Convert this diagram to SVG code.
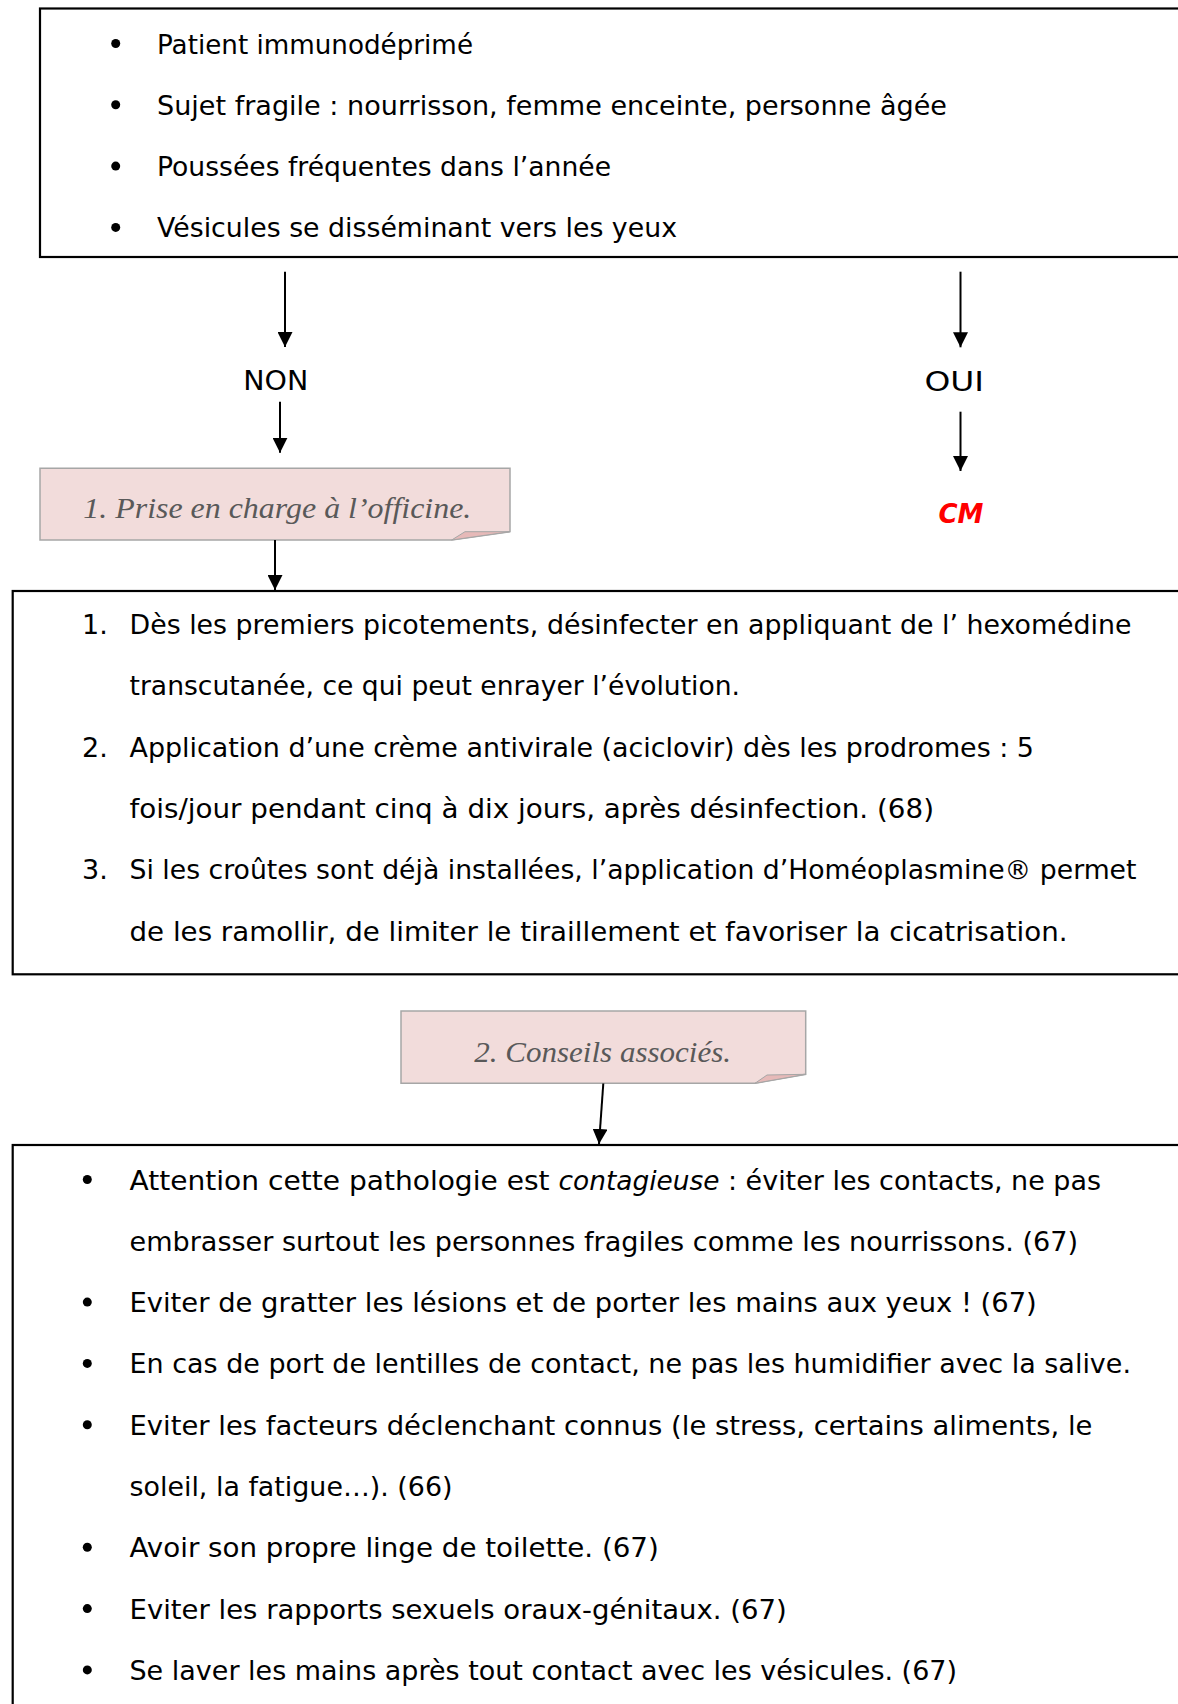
<svg xmlns="http://www.w3.org/2000/svg" width="1178" height="1704" viewBox="0 0 1178 1704">
<defs>
<style>
.box{fill:#fff;stroke:#000;stroke-width:2.2}
.t{font-family:"DejaVu Sans","Liberation Sans",sans-serif;font-size:27px;fill:#000}
.it{font-style:italic}
.lbl{fill:#F2DCDB;stroke:#A6A6A6;stroke-width:1.5}
.fold{fill:#E6B9B8;stroke:#A6A6A6;stroke-width:1}
.lt{font-family:"Liberation Serif","DejaVu Serif",serif;font-style:italic;font-size:29px;fill:#595959}
.yn{font-family:"DejaVu Sans","Liberation Sans",sans-serif;font-size:27px;fill:#000}
.cm{font-family:"DejaVu Sans","Liberation Sans",sans-serif;font-size:27px;font-weight:bold;font-style:italic;fill:#FF0000}
.bul{fill:#000}
.conn{stroke:#000;stroke-width:2;fill:none;marker-end:url(#ah)}
</style>
<marker id="ah" viewBox="0 0 15 15" refX="15" refY="7.5" markerWidth="15" markerHeight="15" markerUnits="userSpaceOnUse" orient="auto">
<path d="M0,0 L15,7.5 L0,15 Z" fill="#000"/>
</marker>
</defs>
<rect width="1178" height="1704" fill="#fff"/>

<g id="criteres">
<rect class="box" x="40" y="8.5" width="1160" height="248.5"/>
<circle class="bul" cx="115.7" cy="43.5" r="4.5"/>
<circle class="bul" cx="115.7" cy="104.8" r="4.5"/>
<circle class="bul" cx="115.7" cy="166.1" r="4.5"/>
<circle class="bul" cx="115.7" cy="227.4" r="4.5"/>
<text class="t" x="157" y="53.5" textLength="316" lengthAdjust="spacingAndGlyphs">Patient immunodéprimé</text>
<text class="t" x="157" y="114.8" textLength="790" lengthAdjust="spacingAndGlyphs">Sujet fragile : nourrisson, femme enceinte, personne âgée</text>
<text class="t" x="157" y="176.1" textLength="454" lengthAdjust="spacingAndGlyphs">Poussées fréquentes dans l’année</text>
<text class="t" x="157" y="237.4" textLength="520" lengthAdjust="spacingAndGlyphs">Vésicules se disséminant vers les yeux</text>
</g>

<g id="non">
<text class="yn" x="275.8" y="390" text-anchor="middle" textLength="65" lengthAdjust="spacingAndGlyphs">NON</text>
</g>

<g id="oui">
<text class="yn" x="954.2" y="390.7" text-anchor="middle" textLength="59.6" lengthAdjust="spacingAndGlyphs">OUI</text>
</g>

<g id="cm">
<text class="cm" x="960.9" y="523.3" text-anchor="middle" textLength="45" lengthAdjust="spacingAndGlyphs">CM</text>
</g>

<g id="label-prise-en-charge">
<path class="lbl" d="M40,468.3 H510 V531.7 L451.7,540 H40 Z"/>
<path class="fold" d="M451.7,540 L465,531.7 L510,531.7 Z"/>
<text class="lt" x="83.3" y="518.3" textLength="388" lengthAdjust="spacingAndGlyphs">1. Prise en charge à l’officine.</text>
</g>

<g id="prise-en-charge">
<rect class="box" x="12.7" y="591" width="1190" height="383.3"/>
<text class="t" x="82" y="634">1.</text>
<text class="t" x="82" y="756.6">2.</text>
<text class="t" x="82" y="879.2">3.</text>
<text class="t" x="129.5" y="634" textLength="1002" lengthAdjust="spacingAndGlyphs">Dès les premiers picotements, désinfecter en appliquant de l’ hexomédine</text>
<text class="t" x="129.5" y="695.3" textLength="610.5" lengthAdjust="spacingAndGlyphs">transcutanée, ce qui peut enrayer l’évolution.</text>
<text class="t" x="129.5" y="756.6" textLength="904.5" lengthAdjust="spacingAndGlyphs">Application d’une crème antivirale (aciclovir) dès les prodromes : 5</text>
<text class="t" x="129.5" y="817.9" textLength="804.5" lengthAdjust="spacingAndGlyphs">fois/jour pendant cinq à dix jours, après désinfection. (68)</text>
<text class="t" x="129.5" y="879.2" textLength="1007" lengthAdjust="spacingAndGlyphs">Si les croûtes sont déjà installées, l’application d’Homéoplasmine® permet</text>
<text class="t" x="129.5" y="940.5" textLength="938" lengthAdjust="spacingAndGlyphs">de les ramollir, de limiter le tiraillement et favoriser la cicatrisation.</text>
</g>

<g id="label-conseils">
<path class="lbl" d="M401,1011 H805.7 V1074.3 L755,1083.3 H401 Z"/>
<path class="fold" d="M755,1083.3 L767,1075 L805.7,1074.3 Z"/>
<text class="lt" x="474.3" y="1061.7" textLength="256.7" lengthAdjust="spacingAndGlyphs">2. Conseils associés.</text>
</g>

<g id="conseils">
<rect class="box" x="12.7" y="1145" width="1190" height="600"/>
<circle class="bul" cx="87.3" cy="1179.5" r="4.5"/>
<circle class="bul" cx="87.3" cy="1302.1" r="4.5"/>
<circle class="bul" cx="87.3" cy="1363.4" r="4.5"/>
<circle class="bul" cx="87.3" cy="1424.7" r="4.5"/>
<circle class="bul" cx="87.3" cy="1547.3" r="4.5"/>
<circle class="bul" cx="87.3" cy="1608.6" r="4.5"/>
<circle class="bul" cx="87.3" cy="1669.9" r="4.5"/>
<text class="t" y="1189.5"><tspan x="129.5" textLength="429" lengthAdjust="spacingAndGlyphs">Attention cette pathologie est </tspan><tspan class="it" x="558.6" textLength="160.8" lengthAdjust="spacingAndGlyphs">contagieuse</tspan><tspan x="719.4" textLength="381.6" lengthAdjust="spacingAndGlyphs"> : éviter les contacts, ne pas</tspan></text>
<text class="t" x="129.5" y="1250.8" textLength="948.5" lengthAdjust="spacingAndGlyphs">embrasser surtout les personnes fragiles comme les nourrissons. (67)</text>
<text class="t" x="129.5" y="1312.1" textLength="907.3" lengthAdjust="spacingAndGlyphs">Eviter de gratter les lésions et de porter les mains aux yeux ! (67)</text>
<text class="t" x="129.5" y="1373.4" textLength="1001.5" lengthAdjust="spacingAndGlyphs">En cas de port de lentilles de contact, ne pas les humidifier avec la salive.</text>
<text class="t" x="129.5" y="1434.7" textLength="963" lengthAdjust="spacingAndGlyphs">Eviter les facteurs déclenchant connus (le stress, certains aliments, le</text>
<text class="t" x="129.5" y="1496" textLength="323" lengthAdjust="spacingAndGlyphs">soleil, la fatigue…). (66)</text>
<text class="t" x="129.5" y="1557.3" textLength="529.3" lengthAdjust="spacingAndGlyphs">Avoir son propre linge de toilette. (67)</text>
<text class="t" x="129.5" y="1618.6" textLength="657.2" lengthAdjust="spacingAndGlyphs">Eviter les rapports sexuels oraux-génitaux. (67)</text>
<text class="t" x="129.5" y="1679.9" textLength="827.5" lengthAdjust="spacingAndGlyphs">Se laver les mains après tout contact avec les vésicules. (67)</text>
</g>

<g id="connectors">
<line class="conn" x1="285" y1="271.7" x2="285" y2="347"/>
<line class="conn" x1="280" y1="401.7" x2="280" y2="452.7"/>
<line class="conn" x1="275" y1="540" x2="275" y2="590"/>
<line class="conn" x1="960.5" y1="271.7" x2="960.5" y2="347.3"/>
<line class="conn" x1="960.5" y1="411.7" x2="960.5" y2="471"/>
<line class="conn" x1="603.3" y1="1083.5" x2="599" y2="1144"/>
</g>
</svg>
